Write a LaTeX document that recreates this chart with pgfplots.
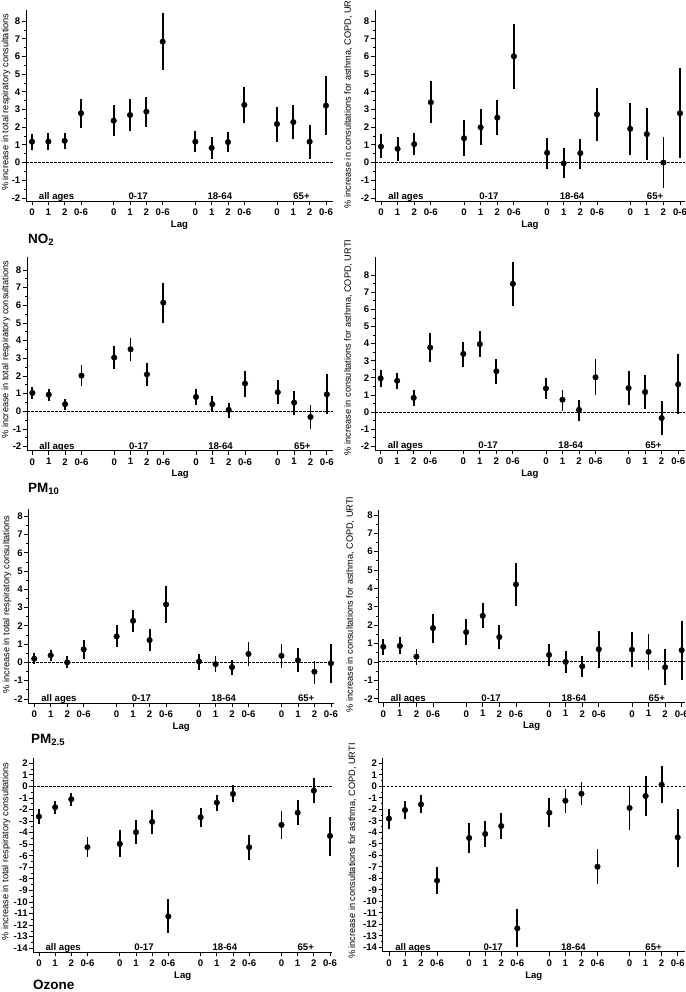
\documentclass[border=0pt]{standalone}
\usepackage{pgfplots}
\usepackage{pgfplotstable}
\pgfplotsset{compat=1.18}
\usepackage{fontspec}
\setmainfont{Liberation Sans}

\pgfplotstableread{
x y lo hi
0 1.18 0.70 1.61
1 1.19 0.70 1.65
2 1.23 0.76 1.65
3 2.79 1.97 3.62
5 2.37 1.48 3.26
6 2.69 1.76 3.58
7 2.88 1.99 3.73
8 6.84 5.25 8.44
10 1.18 0.57 1.76
11 0.83 0.19 1.42
12 1.16 0.57 1.73
13 3.26 2.22 4.30
15 2.18 1.19 3.13
16 2.29 1.31 3.24
17 1.18 0.23 2.12
18 3.22 1.55 4.87
}\tNOa
\pgfplotstableread{
x y lo hi
0 0.91 0.27 1.61
1 0.78 0.09 1.46
2 1.04 0.44 1.69
3 3.41 2.22 4.59
5 1.38 0.36 2.43
6 1.99 0.99 3.03
7 2.54 1.54 3.55
8 6.01 4.17 7.83
10 0.55 -0.34 1.40
11 -0.04 -0.89 0.85
12 0.53 -0.34 1.36
13 2.73 1.21 4.23
15 1.91 0.44 3.37
16 1.61 0.15 3.07
17 0.00 -1.42 1.42
18 2.79 0.28 5.35
}\tNOb
\pgfplotstableread{
x y lo hi
0 1.04 0.70 1.38
1 0.94 0.58 1.28
2 0.40 0.06 0.72
3 2.02 1.43 2.60
5 3.04 2.40 3.68
6 3.51 2.85 4.17
7 2.09 1.45 2.74
8 6.15 5.02 7.26
10 0.81 0.38 1.25
11 0.40 -0.04 0.85
12 0.08 -0.36 0.49
13 1.57 0.83 2.28
15 1.08 0.42 1.75
16 0.49 -0.19 1.13
17 -0.32 -0.98 0.34
18 0.96 -0.17 2.09
}\tPMa
\pgfplotstableread{
x y lo hi
0 1.97 1.47 2.45
1 1.83 1.37 2.30
2 0.83 0.33 1.28
3 3.77 2.92 4.60
5 3.40 2.65 4.10
6 3.97 3.22 4.73
7 2.38 1.62 3.10
8 7.50 6.20 8.80
10 1.38 0.76 1.98
11 0.72 0.05 1.30
12 0.13 -0.50 0.73
13 2.03 0.98 3.13
15 1.40 0.40 2.40
16 1.17 0.15 2.19
17 -0.35 -1.37 0.67
18 1.62 -0.14 3.37
}\tPMb
\pgfplotstableread{
x y lo hi
0 0.20 -0.07 0.50
1 0.38 0.07 0.70
2 0.00 -0.33 0.33
3 0.71 0.16 1.25
5 1.42 0.82 2.04
6 2.28 1.68 2.88
7 1.22 0.64 1.84
8 3.17 2.17 4.19
10 0.05 -0.40 0.47
11 -0.10 -0.51 0.33
12 -0.26 -0.71 0.15
13 0.46 -0.22 1.14
15 0.36 -0.33 1.00
16 0.11 -0.55 0.77
17 -0.51 -1.17 0.07
18 -0.05 -1.11 1.00
}\tPPa
\pgfplotstableread{
x y lo hi
0 0.82 0.36 1.24
1 0.87 0.44 1.35
2 0.29 -0.16 0.73
3 1.84 1.04 2.62
5 1.62 0.91 2.33
6 2.51 1.82 3.20
7 1.35 0.69 2.02
8 4.22 3.02 5.40
10 0.38 -0.22 0.96
11 0.00 -0.62 0.60
12 -0.24 -0.84 0.33
13 0.69 -0.33 1.69
15 0.67 -0.29 1.62
16 0.55 -0.44 1.53
17 -0.29 -1.25 0.69
18 0.64 -0.96 2.25
}\tPPb
\pgfplotstableread{
x y lo hi
0 -2.61 -3.24 -1.98
1 -1.80 -2.38 -1.25
2 -1.11 -1.69 -0.59
3 -5.26 -6.12 -4.39
5 -4.97 -6.12 -3.76
6 -3.96 -4.97 -2.93
7 -3.07 -4.08 -2.06
8 -11.25 -12.70 -9.75
10 -2.67 -3.47 -1.86
11 -1.40 -2.15 -0.73
12 -0.65 -1.37 0.13
13 -5.26 -6.38 -4.22
15 -3.33 -4.57 -2.09
16 -2.27 -3.36 -1.17
17 -0.37 -1.43 0.70
18 -4.28 -5.98 -2.67
}\tOZa
\pgfplotstableread{
x y lo hi
0 -2.81 -3.74 -1.94
1 -2.06 -2.84 -1.30
2 -1.57 -2.29 -0.78
3 -8.20 -9.36 -7.04
5 -4.49 -5.83 -3.16
6 -4.14 -5.30 -2.99
7 -3.45 -4.55 -2.35
8 -12.35 -14.00 -10.70
10 -2.29 -3.51 -1.04
11 -1.25 -2.29 -0.20
12 -0.64 -1.65 0.38
13 -6.99 -8.52 -5.45
15 -1.88 -3.80 0.00
16 -0.84 -2.61 0.90
17 0.14 -1.48 1.77
18 -4.43 -7.01 -1.94
}\tOZb

\newcommand\tickfont{\fontsize{9.6}{10}\selectfont\bfseries}
\pgfplotsset{
  panel/.style={
    scale only axis, anchor=south west, clip=false,
    axis x line=bottom, axis y line=left,
    axis line style={line width=0.8pt,-},
    tick align=outside,
    tick style={line width=0.8pt, black},
    major tick length=4pt, minor tick length=2pt,
    xtick={0,1,2,3,5,6,7,8,10,11,12,13,15,16,17,18},
    xticklabels={0,1,2,0-6,0,1,2,0-6,0,1,2,0-6,0,1,2,0-6},
    minor y tick num=1,
    /pgf/number format/assume math mode=true,
    ticklabel style={font=\tickfont},
    xticklabel style={inner sep=1pt, yshift=-2.5pt},
    yticklabel style={inner sep=1.5pt},
    xlabel={Lag},
    xlabel style={font=\tickfont, inner sep=0pt, yshift=-4pt},
    every axis y label/.style={rotate=90, anchor=center, font=\fontsize{9.2}{10}\selectfont, inner sep=0pt},
    extra y ticks={0}, extra y tick labels={},
    extra y tick style={grid=major, major grid style={black, line width=1pt, dash pattern=on 2.5pt off 1.5pt}},
  },
  ci/.style={only marks, mark=*, mark size=2.8pt, black,
    error bars/.cd, y dir=both, y explicit, error mark=none,
    error bar style={line width=1.8pt, black}},
}
\newcommand\groups{%
  \node[anchor=base, font=\tickfont, yshift=1.5pt] at (axis cs:1.5,\pgfkeysvalueof{/pgfplots/ymin}) {all ages};
  \node[anchor=base, font=\tickfont, yshift=1.5pt] at (axis cs:6.5,\pgfkeysvalueof{/pgfplots/ymin}) {0-17};
  \node[anchor=base, font=\tickfont, yshift=1.5pt] at (axis cs:11.5,\pgfkeysvalueof{/pgfplots/ymin}) {18-64};
  \node[anchor=base, font=\tickfont, yshift=1.5pt] at (axis cs:16.5,\pgfkeysvalueof{/pgfplots/ymin}) {65+};
}
\newcommand\plotci[1]{\addplot[ci] table[x=x, y=y, y error plus expr=\thisrow{hi}-\thisrow{y}, y error minus expr=\thisrow{y}-\thisrow{lo}] {#1};}

\begin{document}
\begin{tikzpicture}[x=1pt,y=1pt]
\useasboundingbox (0pt,0pt) rectangle (685pt,992pt);

% Row 1: NO2
\begin{axis}[panel, at={(26pt,790.5pt)}, width=307pt, height=191pt,
  xmin=-0.37, xmax=18.43, ymin=-2.2, ymax=8.6, ytick={-2,...,8},
  ylabel={\% increase in total respiratory consultations},
  ylabel style={at={(axis description cs:-0.065,0.52)}}]
\plotci{\tNOa}
\groups
\end{axis}
\begin{axis}[panel, at={(375pt,790.5pt)}, width=310pt, height=191pt,
  xmin=-0.36, xmax=18.3, ymin=-2.2, ymax=8.6, ytick={-2,...,8},
  ylabel={\% increase in consultations for asthma, COPD, URTI},
  ylabel style={at={(axis description cs:-0.087,0.53)}}]
\plotci{\tNOb}
\groups
\end{axis}

% Row 2: PM10
\begin{axis}[panel, at={(27pt,541.3pt)}, width=306.4pt, height=194pt,
  xmin=-0.33, xmax=18.4, ymin=-2.23, ymax=8.75, ytick={-2,...,8},
  ylabel={\% increase in total respiratory consultations},
  ylabel style={at={(axis description cs:-0.0685,0.52)}}]
\plotci{\tPMa}
\groups
\end{axis}
\begin{axis}[panel, at={(375pt,542pt)}, width=309.8pt, height=193.4pt,
  xmin=-0.34, xmax=18.4, ymin=-2.22, ymax=9.09, ytick={-2,...,8},
  ylabel={\% increase in consultations for asthma, COPD, URTI},
  ylabel style={at={(axis description cs:-0.087,0.53)}}]
\plotci{\tPMb}
\groups
\end{axis}

% Row 3: PM2.5
\begin{axis}[panel, at={(28.3pt,288.7pt)}, width=305.9pt, height=193.8pt,
  xmin=-0.36, xmax=18.2, ymin=-2.24, ymax=8.37, ytick={-2,...,8},
  ylabel={\% increase in total respiratory consultations},
  ylabel style={at={(axis description cs:-0.07,0.51)}}]
\plotci{\tPPa}
\groups
\end{axis}
\begin{axis}[panel, at={(378.3pt,289.3pt)}, width=306.7pt, height=192.7pt,
  xmin=-0.3, xmax=18.2, ymin=-2.22, ymax=8.27, ytick={-2,...,8},
  ylabel={\% increase in consultations for asthma, COPD, URTI},
  ylabel style={at={(axis description cs:-0.092,0.51)}}]
\plotci{\tPPb}
\groups
\end{axis}

% Row 4: Ozone
\begin{axis}[panel, at={(33.3pt,39.7pt)}, width=298.8pt, height=194pt,
  xmin=-0.35, xmax=18.13, ymin=-14.35, ymax=2.43, ytick={-14,...,2},
  ylabel={\% increase in total respiratory consultations},
  ylabel style={at={(axis description cs:-0.091,0.52)}}]
\plotci{\tOZa}
\groups
\end{axis}
\begin{axis}[panel, at={(382.7pt,40.3pt)}, width=302.2pt, height=193.3pt,
  xmin=-0.39, xmax=18.45, ymin=-14.38, ymax=2.43, ytick={-14,...,2},
  ylabel={\% increase in consultations for asthma, COPD, URTI},
  ylabel style={at={(axis description cs:-0.10,0.52)}}]
\plotci{\tOZb}
\groups
\end{axis}

% Pollutant titles
\begin{scope}[every node/.style={anchor=west, font=\fontsize{13.5}{14}\selectfont\bfseries, inner sep=0pt}]
\node at (28pt,752pt) {NO\textsubscript{2}};
\node at (28pt,503pt) {PM\textsubscript{10}};
\node at (31pt,252pt) {PM\textsubscript{2.5}};
\node at (33pt,7.5pt) {Ozone};
\end{scope}
\end{tikzpicture}
\end{document}
